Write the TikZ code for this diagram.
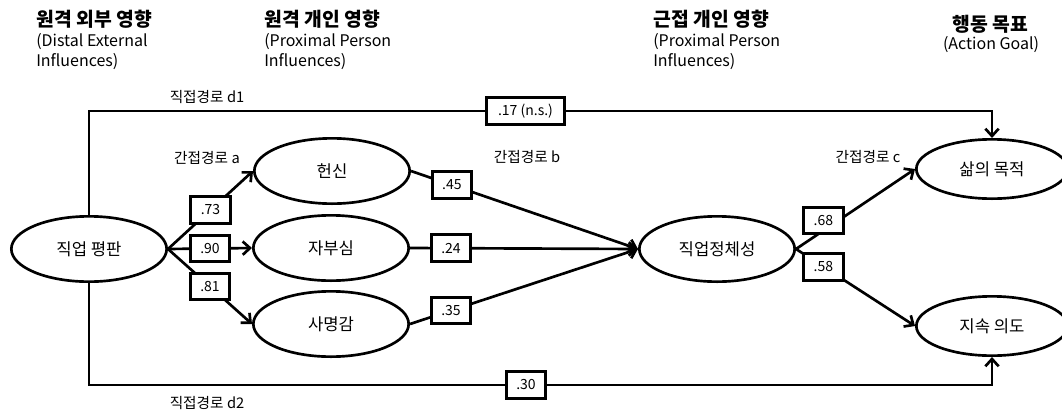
\documentclass[tikz,border=0pt]{standalone}
\usepackage{fontspec}
\setmainfont{Noto Sans CJK KR}
\usetikzlibrary{arrows.meta,shapes.geometric}
\begin{document}
\begin{tikzpicture}[x=0.75pt,y=-0.75pt]
	\tikzset{lat/.style={draw,ellipse,line width=2pt,minimum width=116.5pt,minimum height=49pt,inner sep=0pt,font=\fontsize{12.5}{14}\selectfont},
		coef/.style={draw,fill=white,line width=2.2pt,minimum width=29.5pt,minimum height=20pt,inner sep=1pt,font=\fontsize{10.5}{12}\selectfont},
		arr/.style={line width=2pt,-{Straight Barb[length=5.5pt,width=10pt,line width=2pt]}},
		lnk/.style={line width=2pt},
		lab/.style={font=\fontsize{11}{13}\selectfont},
		ttl/.style={font=\fontsize{14.5}{17}\selectfont\bfseries,inner sep=0pt},
		sub/.style={font=\fontsize{12}{15.4}\selectfont,anchor=north west,align=left,inner sep=0pt}}
	\useasboundingbox(0,0)rectangle(1062,414);
	\node[ttl,anchor=west](h1)at(36,19){원격 외부 영향};
	\node[sub](s1)at(36,33){(Distal External\\Influences)};
	\node[ttl,anchor=west](h2)at(264,19){원격 개인 영향};
	\node[sub](s2)at(264,33){(Proximal Person\\Influences)};
	\node[ttl,anchor=west](h3)at(653,19){근접 개인 영향};
	\node[sub](s3)at(653,33){(Proximal Person\\Influences)};
	\node[ttl](h4)at(990,24){행동 목표};
	\node[sub,anchor=north](s4)at(991,36){(Action Goal)};
	\node[lat](rep)at(89,249){직업 평판};
	\node[lat](hs)at(332,171){헌신};
	\node[lat](jb)at(331,248){자부심};
	\node[lat](sm)at(331,324){사명감};
	\node[lat](id)at(717,249){직업정체성};
	\node[lat,minimum width=113.5pt,minimum height=44.5pt](pl)at(992,169){삶의 목적};
	\node[lat,minimum width=113.5pt,minimum height=44.5pt](ti)at(992,326){지속 의도};
	\foreach \a/\b/\w/\p/\s in {
		rep/hs/.73/.5/0,rep/jb/.90/.5/0,rep/sm/.81/.5/0,
		hs/id/.45/.18/0,jb/id/.24/.18/0,sm/id/.35/.18/0,
		id/pl/.68/.23/7.5,id/ti/.58/.23/0}
	\draw[arr](\a.east)--(\b.west)node[coef,pos=\p,yshift=\s pt]{\w};
	\node[coef,minimum width=58pt](d1)at(525.5,111){.17 (n.s.)};
	\draw[lnk](rep.north)|-(d1.west);
	\draw[arr](d1.east)-|(pl.north);
	\node[coef](d2)at(526,385){.30};
	\draw[lnk](rep.south)|-(d2.west);
	\draw[arr](d2.east)-|(ti.south);
	\node[lab](ld1)at(207,97){직접경로 d1};
	\node[lab](la)at(207,158){간접경로 a};
	\node[lab](lb)at(527,157){간접경로 b};
	\node[lab](lc)at(868,157){간접경로 c};
	\node[lab](ld2)at(207,403){직접경로 d2};
\end{tikzpicture}
\end{document}
